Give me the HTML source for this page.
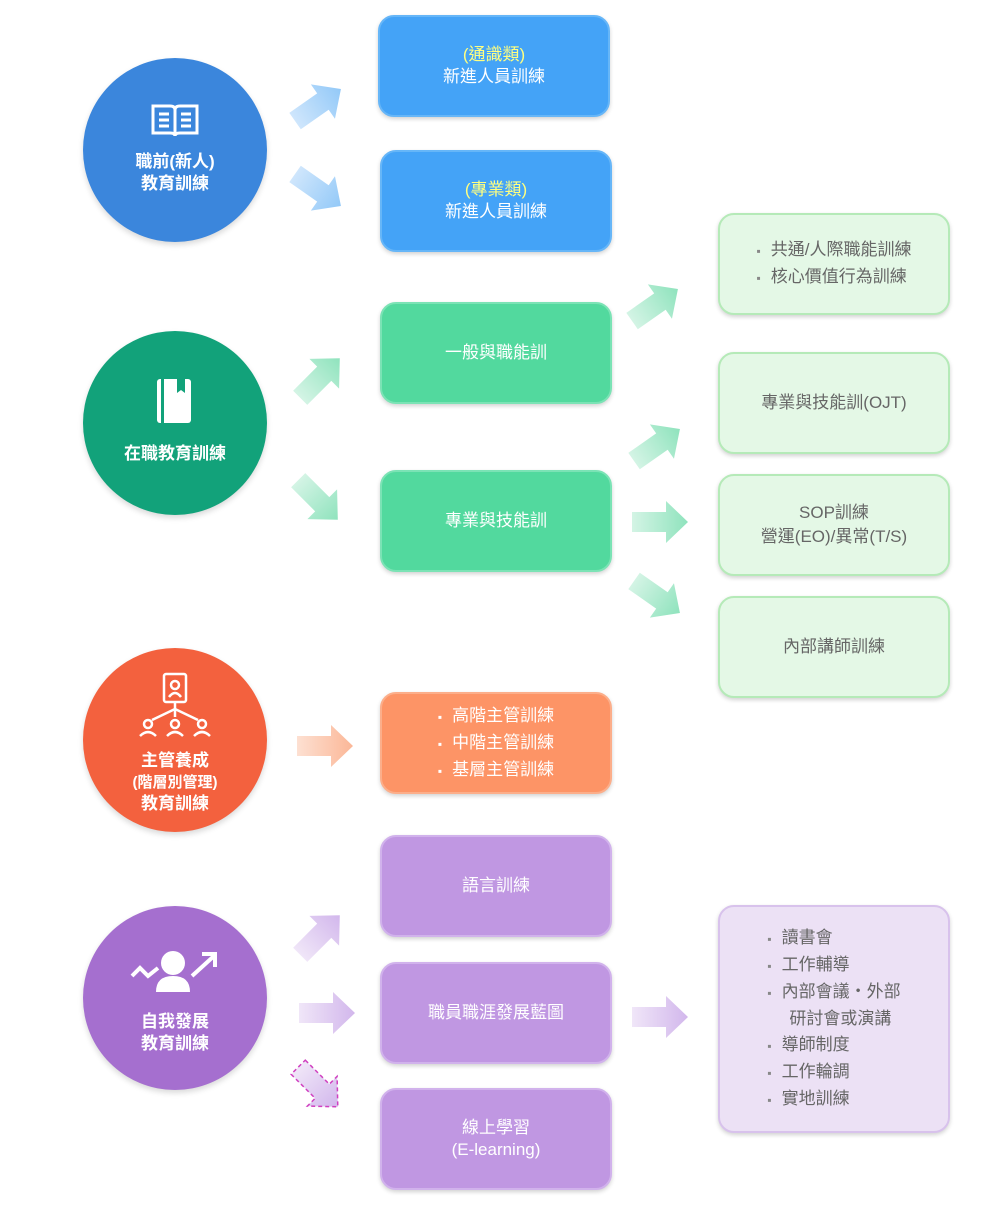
<!DOCTYPE html><html><head><meta charset="utf-8"><style>
body{margin:0;width:1000px;height:1219px;background:#fff;position:relative;font-family:"Liberation Sans","Noto Sans CJK TC",sans-serif;overflow:hidden}
.c{position:absolute;width:184px;height:184px;border-radius:50%;color:#fff;text-align:center;font-size:17px;font-weight:bold;line-height:22px;box-shadow:0 3px 6px rgba(0,0,0,.15)}
.b{position:absolute;width:232px;height:102px;border-radius:16px;display:flex;align-items:center;justify-content:center;text-align:center;font-size:17px;line-height:22px;box-sizing:border-box;box-shadow:0 2px 4px rgba(0,0,0,.18)}
.bl{background:#44a3f7;border:2px solid #66b6f8;color:#fff}
.gr{background:#52d99e;border:2px solid #7be3b5;color:#fff}
.or{background:#fd9466;border:2px solid #fcae8a;color:#fff}
.pu{background:#c097e2;border:2px solid #d1b2ec;color:#fff}
.lg{background:#e4f8e6;border:2px solid #b5eab8;color:#666}
.lp{background:#ece1f5;border:2px solid #d8c2ec;color:#666}
.y{color:#ffff80}
ul{margin:0;padding:0;list-style:none;text-align:left}
li:before{content:"▪";margin-right:10px;font-size:12px}
.lg li:before,.lp li:before{color:#888}
svg{position:absolute;left:0;top:0}
</style></head><body>
<svg width="1000" height="1219">
<defs>
<linearGradient id="gb"><stop offset="0" stop-color="#cfe6fc"/><stop offset="1" stop-color="#93c9f8"/></linearGradient>
<linearGradient id="gg"><stop offset="0" stop-color="#d4f4e5"/><stop offset="1" stop-color="#8fe3bd"/></linearGradient>
<linearGradient id="go"><stop offset="0" stop-color="#fde0d2"/><stop offset="1" stop-color="#fbb797"/></linearGradient>
<linearGradient id="gp"><stop offset="0" stop-color="#f0e6f8"/><stop offset="1" stop-color="#d2b7ec"/></linearGradient>
<polygon id="ar" points="-28,-10 6,-10 6,-21 28,0 6,21 6,10 -28,10"/>
</defs>
<use href="#ar" fill="url(#gb)" transform="translate(318,105) rotate(-35)"/>
<use href="#ar" fill="url(#gb)" transform="translate(318,190) rotate(35)"/>
<use href="#ar" fill="url(#gg)" transform="translate(320,378) rotate(-45)"/>
<use href="#ar" fill="url(#gg)" transform="translate(318,500) rotate(45)"/>
<use href="#ar" fill="url(#gg)" transform="translate(655,305) rotate(-35)"/>
<use href="#ar" fill="url(#gg)" transform="translate(657,445) rotate(-35)"/>
<use href="#ar" fill="url(#gg)" transform="translate(660,522)"/>
<use href="#ar" fill="url(#gg)" transform="translate(657,597) rotate(35)"/>
<use href="#ar" fill="url(#go)" transform="translate(325,746)"/>
<use href="#ar" fill="url(#gp)" transform="translate(320,935) rotate(-45)"/>
<use href="#ar" fill="url(#gp)" transform="translate(327,1013)"/>
<use href="#ar" fill="url(#gp)" stroke="#d040c0" stroke-width="1.5" stroke-dasharray="4,3" transform="translate(318,1087) rotate(45)"/>
<use href="#ar" fill="url(#gp)" transform="translate(660,1017)"/>
</svg>

<div class="c" style="left:83px;top:58px;background:#3b86dc">
<svg width="50" height="36" style="position:relative;left:0;top:45px;display:block;margin:0 auto" viewBox="0 0 50 36"><path d="M3 3h17q5 0 5 4v26q0-3-5-3H3zM47 3H30q-5 0-5 4v26q0-3 5-3h17z" fill="none" stroke="#fff" stroke-width="3"/><path d="M9 11h10M9 17h10M9 23h10M31 11h10M31 17h10M31 23h10" stroke="#fff" stroke-width="3"/></svg>
<div style="position:absolute;top:93px;width:100%">職前(新人)<br>教育訓練</div></div>

<div class="c" style="left:83px;top:331px;background:#12a27a">
<svg width="40" height="48" style="position:absolute;left:72px;top:46px" viewBox="0 0 40 48"><rect x="2" y="2" width="34" height="44" rx="3" fill="#fff"/><rect x="6" y="2" width="3" height="44" fill="#12a27a"/><path d="M22 2v14l4-3 4 3V2z" fill="#12a27a"/></svg>
<div style="position:absolute;top:112px;width:100%">在職教育訓練</div></div>

<div class="c" style="left:83px;top:648px;background:#f3613e">
<svg width="90" height="70" style="position:absolute;left:47px;top:22px" viewBox="0 0 90 70" fill="none" stroke="#fff" stroke-width="2.5"><rect x="34" y="4" width="22" height="28" rx="2"/><circle cx="45" cy="15" r="4"/><path d="M39 27q6-8 12 0M45 33v6M45 39L22 50M45 39v8M45 39l23 11"/><circle cx="18" cy="54" r="4"/><circle cx="45" cy="54" r="4"/><circle cx="72" cy="54" r="4"/><path d="M10 66q8-8 16 0M37 66q8-8 16 0M64 66q8-8 16 0"/></svg>
<div style="position:absolute;top:102px;width:100%;line-height:21px">主管養成<br><span style="font-size:15px">(階層別管理)</span><br>教育訓練</div></div>

<div class="c" style="left:83px;top:906px;background:#a56fcf">
<svg width="96" height="48" style="position:absolute;left:45px;top:40px" viewBox="0 0 96 48"><path d="M4 30l8-8 8 8 10-8" fill="none" stroke="#fff" stroke-width="4"/><circle cx="45" cy="17" r="12" fill="#fff"/><path d="M28 46q0-16 17-16t17 16z" fill="#fff"/><path d="M64 30l22-20M74 8h13v13" fill="none" stroke="#fff" stroke-width="4"/></svg>
<div style="position:absolute;top:105px;width:100%">自我發展<br>教育訓練</div></div>

<div class="b bl" style="left:378px;top:15px"><div><span class="y">(通識類)</span><br>新進人員訓練</div></div>
<div class="b bl" style="left:380px;top:150px"><div><span class="y">(專業類)</span><br>新進人員訓練</div></div>
<div class="b gr" style="left:380px;top:302px">一般與職能訓</div>
<div class="b gr" style="left:380px;top:470px">專業與技能訓</div>
<div class="b or" style="left:380px;top:692px;line-height:26px"><ul><li>高階主管訓練</li><li>中階主管訓練</li><li>基層主管訓練</li></ul></div>
<div class="b pu" style="left:380px;top:835px">語言訓練</div>
<div class="b pu" style="left:380px;top:962px">職員職涯發展藍圖</div>
<div class="b pu" style="left:380px;top:1088px"><div>線上學習<br>(E-learning)</div></div>

<div class="b lg" style="left:718px;top:213px;line-height:25px"><ul><li>共通/人際職能訓練</li><li>核心價值行為訓練</li></ul></div>
<div class="b lg" style="left:718px;top:352px">專業與技能訓(OJT)</div>
<div class="b lg" style="left:718px;top:474px;line-height:24px"><div>SOP訓練<br>營運(EO)/異常(T/S)</div></div>
<div class="b lg" style="left:718px;top:596px">內部講師訓練</div>
<div class="b lp" style="left:718px;top:905px;height:228px;line-height:26px"><ul><li>讀書會</li><li>工作輔導</li><li>內部會議・外部<br><span style="margin-left:22px">研討會或演講</span></li><li>導師制度</li><li>工作輪調</li><li>實地訓練</li></ul></div>
</body></html>
